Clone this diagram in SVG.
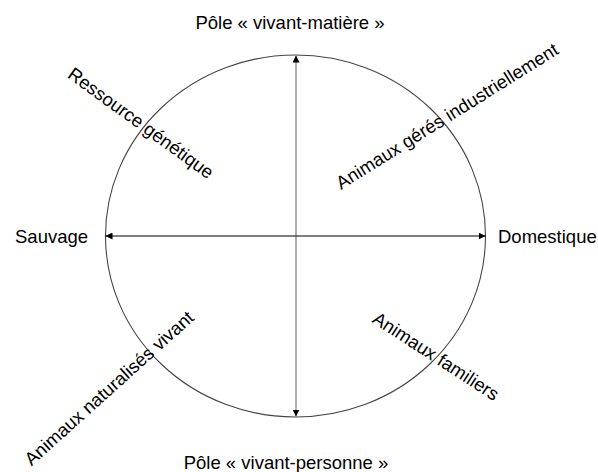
<svg xmlns="http://www.w3.org/2000/svg" width="598" height="472" viewBox="0 0 598 472">
<style>
text{font-family:"Liberation Sans",Arial,sans-serif;font-size:18.5px;fill:#000}
.ax{stroke-width:1.2;fill:none}
</style>
<defs>
<marker id="ah" viewBox="0 0 10 10" refX="10" refY="5" markerWidth="7" markerHeight="7" markerUnits="userSpaceOnUse" orient="auto">
<path d="M0,0 L10,5 L0,10 z" fill="#000"/>
</marker>
</defs>
<rect width="598" height="472" fill="#fff"/>
<g id="circle"><ellipse cx="295.5" cy="236" rx="190" ry="181" fill="none" stroke="#444" stroke-width="1.1"/></g>
<g id="connectors">
<line class="ax" x1="296" y1="236" x2="296" y2="55.5" stroke="#777" marker-end="url(#ah)"/>
<line class="ax" x1="296" y1="236" x2="296" y2="416.5" stroke="#777" marker-end="url(#ah)"/>
<line class="ax" x1="295.5" y1="236" x2="105.5" y2="236" stroke="#000" marker-end="url(#ah)"/>
<line class="ax" x1="295.5" y1="236" x2="485.5" y2="236" stroke="#000" marker-end="url(#ah)"/>
</g>
<g id="pole-matiere"><text x="290" y="29" text-anchor="middle">Pôle « vivant-matière »</text></g>
<g id="pole-personne"><text x="286" y="469" text-anchor="middle">Pôle « vivant-personne »</text></g>
<g id="sauvage"><text x="15" y="243">Sauvage</text></g>
<g id="domestique"><text x="498" y="243">Domestique</text></g>
<g id="ressource"><text x="0" y="0" dy="0.35em" text-anchor="middle" transform="translate(141,123) rotate(36)">Ressource génétique</text></g>
<g id="industriel"><text x="0" y="0" dy="0.35em" text-anchor="middle" transform="translate(447,116) rotate(-32)">Animaux gérés industriellement</text></g>
<g id="naturalises"><text x="0" y="0" dy="0.35em" text-anchor="middle" transform="translate(109,388) rotate(-42)">Animaux naturalisés vivant</text></g>
<g id="familiers"><text x="0" y="0" dy="0.35em" text-anchor="middle" transform="translate(436,356) rotate(33)">Animaux familiers</text></g>
</svg>
